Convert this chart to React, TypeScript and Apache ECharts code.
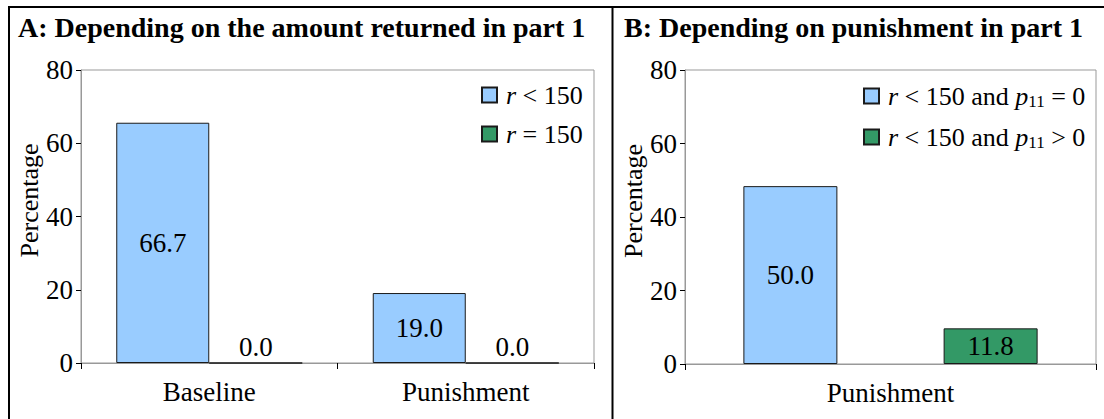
import React, { useEffect, useRef } from "react";
import * as echarts from "echarts";

// Panel A data
const catsA = ["Baseline", "Punishment"];
const seriesA1Name = "r < 150";
const seriesA2Name = "r = 150";
const heightsA1 = [65.6, 19.1];
const heightsA2 = [0, 0];
const labelsA1 = ["66.7", "19.0"];
const labelsA2 = ["0.0", "0.0"];

// Panel B data
const catsB = ["Punishment"];
const seriesB1Name = "r < 150 and p11 = 0";
const seriesB2Name = "r < 150 and p11 > 0";
const heightsB1 = [48.4];
const heightsB2 = [9.7];
const labelsB1 = ["50.0"];
const labelsB2 = ["11.8"];

const yTicks = [0, 20, 40, 60, 80];

const FONT = "'Liberation Serif', 'DejaVu Serif', serif";
const BLUE = "#99CCFF";
const GREEN = "#339966";
const GRAY = "#999999";

const legendRich = {
  i0: { fontStyle: "italic", fontFamily: FONT, fontSize: 26, color: "#000", lineHeight: 28, padding: [0, 0, 0, 4] },
  i: { fontStyle: "italic", fontFamily: FONT, fontSize: 26, color: "#000", lineHeight: 28 },
  n: { fontFamily: FONT, fontSize: 26, color: "#000", lineHeight: 28 },
  sub: { fontFamily: FONT, fontSize: 17, color: "#000", lineHeight: 28, verticalAlign: "bottom", padding: [11, 0, 0, 0] },
};

function legendFmt(name: string): string {
  if (name === seriesA1Name) return "{i0|r}{n| < 150}";
  if (name === seriesA2Name) return "{i0|r}{n| = 150}";
  if (name === seriesB1Name) return "{i0|r}{n| < 150 and }{i|p}{sub|11}{n| = 0}";
  if (name === seriesB2Name) return "{i0|r}{n| < 150 and }{i|p}{sub|11}{n| > 0}";
  return name;
}

function mkData(heights: number[]) {
  return heights.map((v) => ({
    value: v,
    label: { position: v === 0 ? "top" : "inside" },
  }));
}

function mkSeries(name: string, heights: number[], labels: string[], color: string, idx: number, extra: any) {
  return {
    name,
    type: "bar",
    xAxisIndex: idx,
    yAxisIndex: idx,
    data: mkData(heights),
    itemStyle: { color, borderColor: "#1a1a1a", borderWidth: 1 },
    label: {
      show: true,
      formatter: (p: any) => labels[p.dataIndex],
      fontFamily: FONT,
      fontSize: 27,
      color: "#000",
      distance: 2,
    },
    emphasis: { disabled: true },
    ...extra,
  };
}

function yAxis(idx: number) {
  return {
    type: "value",
    gridIndex: idx,
    min: yTicks[0],
    max: yTicks[yTicks.length - 1],
    interval: 20,
    name: "Percentage",
    nameLocation: "middle",
    nameGap: 34,
    nameTextStyle: { fontFamily: FONT, fontSize: 26, color: "#000", padding: [0, 0, 0, 32] },
    axisLine: { show: true, lineStyle: { color: GRAY, width: 1 } },
    axisTick: { show: true, inside: false, length: 5, lineStyle: { color: "#000" } },
    axisLabel: { fontFamily: FONT, fontSize: 27, color: "#000", margin: 8 },
    splitLine: { show: false },
  };
}

function xAxis(idx: number, data: string[]) {
  return {
    type: "category",
    gridIndex: idx,
    data,
    axisLine: { show: true, lineStyle: { color: GRAY, width: 1 } },
    axisTick: { show: true, inside: false, length: 6, lineStyle: { color: "#000" } },
    axisLabel: { fontFamily: FONT, fontSize: 27, color: "#000", margin: 15 },
  };
}

export default function App() {
  const ref = useRef<HTMLDivElement>(null);
  useEffect(() => {
    if (!ref.current) return;
    const chart = echarts.init(ref.current, null, { renderer: "svg" });
    chart.setOption({
      animation: false,
      backgroundColor: "#fff",
      title: [
        {
          text: "A: Depending on the amount returned in part 1",
          left: 13,
          top: 8,
          textStyle: { fontFamily: FONT, fontSize: 28, fontWeight: "bold", color: "#000" },
        },
        {
          text: "B: Depending on punishment in part 1",
          left: 619,
          top: 8,
          textStyle: { fontFamily: FONT, fontSize: 28, fontWeight: "bold", color: "#000" },
        },
      ],
      grid: [
        { left: 81, top: 70, width: 513, height: 293, show: true, borderColor: GRAY, borderWidth: 1, backgroundColor: "transparent" },
        { left: 685, top: 70, width: 411, height: 294, show: true, borderColor: GRAY, borderWidth: 1, backgroundColor: "transparent" },
      ],
      legend: [
        {
          data: [seriesA1Name, seriesA2Name],
          orient: "vertical",
          left: 476,
          top: 77,
          icon: "rect",
          itemWidth: 15,
          itemHeight: 15,
          itemGap: 13,
          selectedMode: false,
          formatter: legendFmt,
          textStyle: { rich: legendRich },
        },
        {
          data: [seriesB1Name, seriesB2Name],
          orient: "vertical",
          left: 858,
          top: 77,
          icon: "rect",
          itemWidth: 15,
          itemHeight: 15,
          itemGap: 13,
          selectedMode: false,
          formatter: legendFmt,
          textStyle: { rich: legendRich },
        },
      ],
      xAxis: [xAxis(0, catsA), xAxis(1, catsB)],
      yAxis: [yAxis(0), yAxis(1)],
      series: [
        mkSeries(seriesA1Name, heightsA1, labelsA1, BLUE, 0, { barWidth: 93, barGap: "0%" }),
        mkSeries(seriesA2Name, heightsA2, labelsA2, GREEN, 0, { barWidth: 93, barGap: "0%" }),
        mkSeries(seriesB1Name, heightsB1, labelsB1, BLUE, 1, { barWidth: 94, barGap: "113%" }),
        mkSeries(seriesB2Name, heightsB2, labelsB2, GREEN, 1, { barWidth: 94, barGap: "113%" }),
      ],
      graphic: [
        { type: "line", shape: { x1: 8, y1: 7, x2: 1104, y2: 7 }, style: { stroke: "#000", lineWidth: 2 } },
        { type: "line", shape: { x1: 9, y1: 6, x2: 9, y2: 419 }, style: { stroke: "#000", lineWidth: 2 } },
        { type: "line", shape: { x1: 612.5, y1: 6, x2: 612.5, y2: 419 }, style: { stroke: "#000", lineWidth: 2 } },
      ],
    });
    return () => chart.dispose();
  }, []);
  return (
    <div
      ref={ref}
      style={{ position: "fixed", left: 0, top: 0, width: 1104, height: 419 }}
    />
  );
}
